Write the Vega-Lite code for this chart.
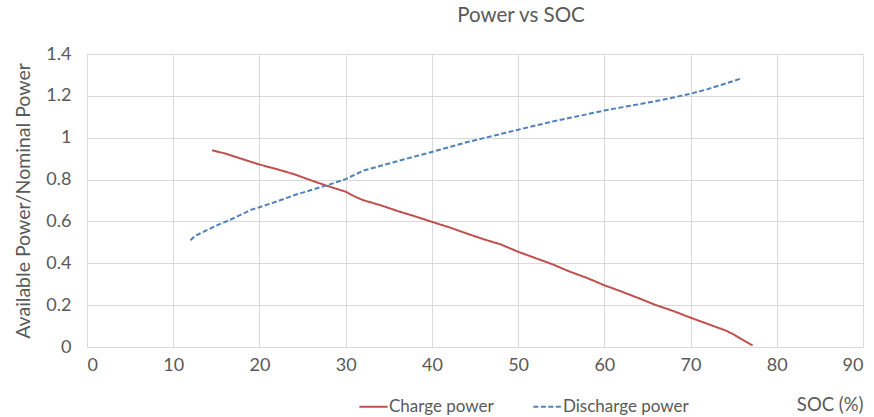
{
  "$schema": "https://vega.github.io/schema/vega-lite/v6.json",
  "autosize": "none",
  "width": 776,
  "height": 293,
  "padding": {"left": 87, "top": 54, "right": 11, "bottom": 70},
  "background": "white",
  "title": {
    "text": "Power vs SOC",
    "font": "Lato",
    "fontSize": 20.5,
    "fontWeight": "normal",
    "color": "#595959",
    "anchor": "middle",
    "dx": 46,
    "offset": 19
  },
  "config": {
    "view": {"stroke": null},
    "font": "Lato"
  },
  "data": {
    "values": [
      {"soc": 14.5, "p": 0.94, "series": "Charge power"},
      {"soc": 16, "p": 0.925, "series": "Charge power"},
      {"soc": 18, "p": 0.898, "series": "Charge power"},
      {"soc": 20, "p": 0.872, "series": "Charge power"},
      {"soc": 22, "p": 0.85, "series": "Charge power"},
      {"soc": 24, "p": 0.826, "series": "Charge power"},
      {"soc": 26, "p": 0.796, "series": "Charge power"},
      {"soc": 28, "p": 0.768, "series": "Charge power"},
      {"soc": 30, "p": 0.742, "series": "Charge power"},
      {"soc": 31, "p": 0.72, "series": "Charge power"},
      {"soc": 32, "p": 0.702, "series": "Charge power"},
      {"soc": 34, "p": 0.678, "series": "Charge power"},
      {"soc": 36, "p": 0.65, "series": "Charge power"},
      {"soc": 38, "p": 0.625, "series": "Charge power"},
      {"soc": 40, "p": 0.598, "series": "Charge power"},
      {"soc": 42, "p": 0.572, "series": "Charge power"},
      {"soc": 44, "p": 0.543, "series": "Charge power"},
      {"soc": 46, "p": 0.515, "series": "Charge power"},
      {"soc": 48, "p": 0.49, "series": "Charge power"},
      {"soc": 50, "p": 0.455, "series": "Charge power"},
      {"soc": 52, "p": 0.425, "series": "Charge power"},
      {"soc": 54, "p": 0.395, "series": "Charge power"},
      {"soc": 56, "p": 0.36, "series": "Charge power"},
      {"soc": 58, "p": 0.33, "series": "Charge power"},
      {"soc": 60, "p": 0.295, "series": "Charge power"},
      {"soc": 62, "p": 0.265, "series": "Charge power"},
      {"soc": 64, "p": 0.233, "series": "Charge power"},
      {"soc": 66, "p": 0.2, "series": "Charge power"},
      {"soc": 68, "p": 0.172, "series": "Charge power"},
      {"soc": 70, "p": 0.14, "series": "Charge power"},
      {"soc": 72, "p": 0.11, "series": "Charge power"},
      {"soc": 74, "p": 0.08, "series": "Charge power"},
      {"soc": 75, "p": 0.06, "series": "Charge power"},
      {"soc": 76, "p": 0.035, "series": "Charge power"},
      {"soc": 77, "p": 0.012, "series": "Charge power"},
      {"soc": 77.2, "p": 0.008, "series": "Charge power"},
      {"soc": 12, "p": 0.51, "series": "Discharge power"},
      {"soc": 12.5, "p": 0.53, "series": "Discharge power"},
      {"soc": 13.5, "p": 0.55, "series": "Discharge power"},
      {"soc": 15, "p": 0.58, "series": "Discharge power"},
      {"soc": 17, "p": 0.615, "series": "Discharge power"},
      {"soc": 19, "p": 0.655, "series": "Discharge power"},
      {"soc": 20, "p": 0.668, "series": "Discharge power"},
      {"soc": 22, "p": 0.695, "series": "Discharge power"},
      {"soc": 24, "p": 0.725, "series": "Discharge power"},
      {"soc": 26, "p": 0.75, "series": "Discharge power"},
      {"soc": 28, "p": 0.775, "series": "Discharge power"},
      {"soc": 30, "p": 0.802, "series": "Discharge power"},
      {"soc": 31, "p": 0.822, "series": "Discharge power"},
      {"soc": 32, "p": 0.842, "series": "Discharge power"},
      {"soc": 34, "p": 0.865, "series": "Discharge power"},
      {"soc": 36, "p": 0.888, "series": "Discharge power"},
      {"soc": 38, "p": 0.91, "series": "Discharge power"},
      {"soc": 40, "p": 0.932, "series": "Discharge power"},
      {"soc": 42, "p": 0.955, "series": "Discharge power"},
      {"soc": 44, "p": 0.978, "series": "Discharge power"},
      {"soc": 46, "p": 0.998, "series": "Discharge power"},
      {"soc": 48, "p": 1.018, "series": "Discharge power"},
      {"soc": 50, "p": 1.038, "series": "Discharge power"},
      {"soc": 52, "p": 1.058, "series": "Discharge power"},
      {"soc": 54, "p": 1.077, "series": "Discharge power"},
      {"soc": 56, "p": 1.095, "series": "Discharge power"},
      {"soc": 58, "p": 1.112, "series": "Discharge power"},
      {"soc": 60, "p": 1.13, "series": "Discharge power"},
      {"soc": 62, "p": 1.145, "series": "Discharge power"},
      {"soc": 64, "p": 1.16, "series": "Discharge power"},
      {"soc": 66, "p": 1.175, "series": "Discharge power"},
      {"soc": 68, "p": 1.192, "series": "Discharge power"},
      {"soc": 70, "p": 1.21, "series": "Discharge power"},
      {"soc": 72, "p": 1.232, "series": "Discharge power"},
      {"soc": 74, "p": 1.258, "series": "Discharge power"},
      {"soc": 76, "p": 1.285, "series": "Discharge power"}
    ]
  },
  "mark": {"type": "line", "strokeWidth": 2},
  "encoding": {
    "x": {
      "field": "soc",
      "type": "quantitative",
      "scale": {"domain": [0, 90], "nice": false, "zero": false},
      "axis": {
        "values": [0, 10, 20, 30, 40, 50, 60, 70, 80, 90],
        "title": "SOC (%)",
        "titleAnchor": "end",
        "titleAlign": "right",
        "titleFontSize": 18.5,
        "titleFontWeight": "normal",
        "titleColor": "#595959",
        "titlePadding": 21,
        "labelFontSize": 18,
        "labelColor": "#595959",
        "labelPadding": 9,
        "gridColor": "#D9D9D9",
        "domainColor": "#D9D9D9",
        "ticks": false
      }
    },
    "y": {
      "field": "p",
      "type": "quantitative",
      "scale": {"domain": [0, 1.4], "nice": false},
      "axis": {
        "values": [0, 0.2, 0.4, 0.6, 0.8, 1, 1.2, 1.4],
        "format": "~f",
        "title": "Available Power/Nominal Power",
        "titleFontSize": 19.5,
        "titleFontWeight": "normal",
        "titleColor": "#595959",
        "titlePadding": 12,
        "labelFontSize": 18,
        "labelColor": "#595959",
        "labelPadding": 16,
        "gridColor": "#D9D9D9",
        "domain": false,
        "ticks": false
      }
    },
    "color": {
      "field": "series",
      "type": "nominal",
      "scale": {"domain": ["Charge power", "Discharge power"], "range": ["#C0504D", "#4F81BD"]},
      "legend": {
        "title": null,
        "orient": "none",
        "legendX": 271,
        "legendY": 337,
        "direction": "horizontal",
        "symbolType": "stroke",
        "symbolSize": 800,
        "symbolStrokeWidth": 2,
        "labelFontSize": 17,
        "labelColor": "#595959",
        "columnPadding": 35,
        "labelOffset": 0
      }
    },
    "strokeDash": {
      "field": "series",
      "type": "nominal",
      "scale": {"domain": ["Charge power", "Discharge power"], "range": [[1, 0], [5, 2.5]]},
      "legend": {
        "title": null,
        "orient": "none",
        "legendX": 271,
        "legendY": 337,
        "direction": "horizontal",
        "symbolType": "stroke",
        "symbolSize": 800,
        "symbolStrokeWidth": 2,
        "labelFontSize": 17,
        "labelColor": "#595959",
        "columnPadding": 35,
        "labelOffset": 0
      }
    }
  }
}
